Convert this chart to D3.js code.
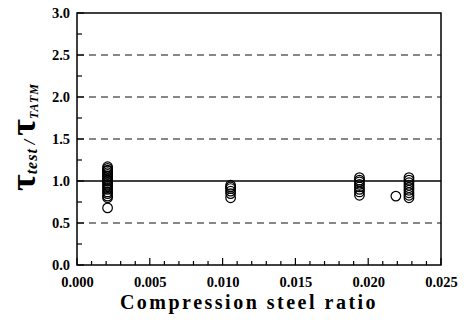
<!DOCTYPE html>
<html>
<head>
<meta charset="utf-8">
<script src="https://cdn.jsdelivr.net/npm/d3@7"></script>
<style>
  body { margin: 0; background: #fff; }
  svg text { font-family: "Liberation Serif", "DejaVu Serif", serif; font-weight: bold; }
</style>
</head>
<body>
<div id="chart"></div>
<script>
// compression steel ratio groups and the measured strength ratios
var ratioA = 0.0021, valuesA = [1.17, 1.15, 1.13, 1.12, 1.10, 1.08, 1.06, 1.05, 1.03, 1.01, 1.00, 0.98, 0.96, 0.94, 0.92, 0.90, 0.87, 0.85, 0.82, 0.80, 0.68];
var ratioB = 0.01055, valuesB = [0.95, 0.93, 0.91, 0.88, 0.85, 0.80];
var ratioC = 0.0194, valuesC = [1.04, 1.01, 0.99, 0.96, 0.93, 0.90, 0.87, 0.83];
var ratioD = 0.0219, valuesD = [0.82];
var ratioE = 0.0228, valuesE = [1.04, 1.01, 0.98, 0.95, 0.92, 0.89, 0.86, 0.83, 0.80];

var xTicks = [0, 0.005, 0.010, 0.015, 0.020, 0.025];
var yTicks = [0, 0.5, 1.0, 1.5, 2.0, 2.5, 3.0];
var dashedLevels = [0.5, 1.5, 2.0, 2.5];

var groups = [[ratioA, valuesA], [ratioB, valuesB], [ratioC, valuesC], [ratioD, valuesD], [ratioE, valuesE]];
var points = [];
groups.forEach(function (g) {
  g[1].forEach(function (v) { points.push({ x: g[0], y: v }); });
});

var margin = { top: 13, right: 23, bottom: 57, left: 77 },
  width = 464 - margin.left - margin.right,
  height = 322 - margin.top - margin.bottom;

var svg = d3.select("#chart").append("svg")
  .attr("width", 464)
  .attr("height", 322)
  .append("g")
  .attr("transform", "translate(" + margin.left + "," + margin.top + ")");

var x = d3.scaleLinear().domain([0, 0.025]).range([0, width]);
var y = d3.scaleLinear().domain([0, 3]).range([height, 0]);

// dashed reference lines
svg.selectAll(".grid")
  .data(dashedLevels)
  .enter().append("line")
  .attr("x1", 0).attr("x2", width)
  .attr("y1", function (d) { return y(d); })
  .attr("y2", function (d) { return y(d); })
  .attr("stroke", "#111")
  .attr("stroke-width", 1)
  .attr("stroke-dasharray", "7,5");

// solid line at 1.0
svg.append("line")
  .attr("x1", 0).attr("x2", width)
  .attr("y1", y(1)).attr("y2", y(1))
  .attr("stroke", "#000")
  .attr("stroke-width", 1.5);

// minor ticks (inside)
var xMinor = d3.range(0, 26).map(function (i) { return i * 0.001; });
svg.selectAll(".xt")
  .data(xMinor)
  .enter().append("line")
  .attr("x1", function (d) { return x(d); })
  .attr("x2", function (d) { return x(d); })
  .attr("y1", height)
  .attr("y2", function (d, i) { return height - (i % 5 === 0 ? 7 : 4); })
  .attr("stroke", "#000")
  .attr("stroke-width", 1.2);

var yMinor = d3.range(0, 13).map(function (i) { return i * 0.25; });
svg.selectAll(".yt")
  .data(yMinor)
  .enter().append("line")
  .attr("x1", 0)
  .attr("x2", function (d, i) { return i % 2 === 0 ? 7 : 5; })
  .attr("y1", function (d) { return y(d); })
  .attr("y2", function (d) { return y(d); })
  .attr("stroke", "#000")
  .attr("stroke-width", 1.2);

// frame
svg.append("rect")
  .attr("width", width)
  .attr("height", height)
  .attr("fill", "none")
  .attr("stroke", "#000")
  .attr("stroke-width", 1.5);

// axes labels only
var xAxis = svg.append("g")
  .attr("transform", "translate(0," + height + ")")
  .call(d3.axisBottom(x).tickValues(xTicks).tickFormat(d3.format(".3f")).tickSize(0).tickPadding(12));
xAxis.select(".domain").remove();
xAxis.selectAll("text").attr("font-size", "14.5px").attr("fill", "#000")
  .style("font-family", "Liberation Serif").style("font-weight", "bold");

var yAxis = svg.append("g")
  .call(d3.axisLeft(y).tickValues(yTicks).tickFormat(d3.format(".1f")).tickSize(0).tickPadding(7));
yAxis.select(".domain").remove();
yAxis.selectAll("text").attr("font-size", "14.5px").attr("fill", "#000")
  .style("font-family", "Liberation Serif").style("font-weight", "bold");

// data points
svg.selectAll("circle")
  .data(points)
  .enter().append("circle")
  .attr("cx", function (d) { return x(d.x); })
  .attr("cy", function (d) { return y(d.y); })
  .attr("r", 4.8)
  .attr("fill", "none")
  .attr("stroke", "#000")
  .attr("stroke-width", 1.2);

// x title
svg.append("text")
  .attr("x", width / 2 - 10)
  .attr("y", height + 44)
  .attr("text-anchor", "middle")
  .attr("font-size", "20px")
  .attr("letter-spacing", "2.5px")
  .text("Compression steel ratio");

// y title
var yt = svg.append("text")
  .attr("transform", "translate(-42," + (height / 2 - 2) + ") rotate(-90)")
  .attr("text-anchor", "middle");
yt.append("tspan").attr("font-size", "36px").text("\u03C4");
yt.append("tspan").attr("font-size", "16px").attr("font-style", "italic").attr("dy", 2).attr("letter-spacing", "1px").text("test");
yt.append("tspan").attr("font-size", "16px").attr("font-style", "italic").attr("dy", -2).text(" / ");
yt.append("tspan").attr("font-size", "36px").text("\u03C4");
yt.append("tspan").attr("font-size", "12px").attr("font-style", "italic").attr("dy", 3).attr("letter-spacing", "1px").text("TATM");
</script>
</body>
</html>
